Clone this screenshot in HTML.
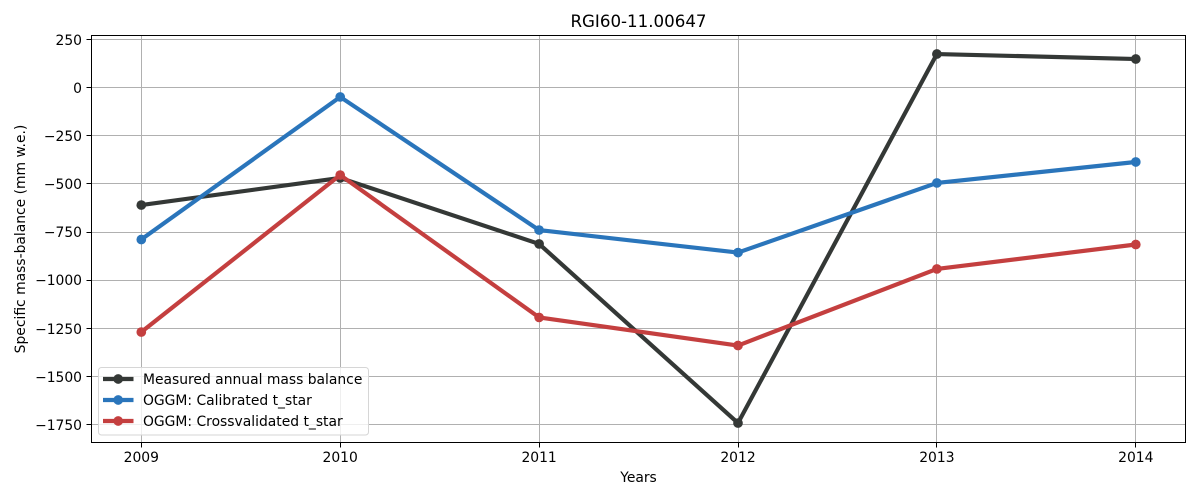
<!DOCTYPE html>
<html>
<head>
<meta charset="utf-8">
<title>RGI60-11.00647</title>
<style>
html,body{margin:0;padding:0;background:#fff;}
svg{display:block;}
text{font-family:"DejaVu Sans","Liberation Sans",sans-serif;fill:#000;}
</style>
</head>
<body>
<svg id="chart" xmlns="http://www.w3.org/2000/svg" width="1200" height="500" viewBox="0 0 1200 500"></svg>
<script>
const years = [2009, 2010, 2011, 2012, 2013, 2014];
const yTickValues = [250, 0, -250, -500, -750, -1000, -1250, -1500, -1750];
const measured = [-610, -469, -812, -1743, 175, 149];
const calibrated = [-789, -48, -740, -857, -495, -386];
const crossvalidated = [-1270, -454, -1194, -1340, -942, -815];
const seriesNames = ["Measured annual mass balance", "OGGM: Calibrated t_star", "OGGM: Crossvalidated t_star"];
const seriesSlugs = ["measured", "calibrated", "crossvalidated"];
const seriesColors = ["#343836", "#2a75bb", "#c43f3f"];

const NS = "http://www.w3.org/2000/svg";
const svg = document.getElementById("chart");
const plot = {left: 91.5, right: 1185.5, top: 35.5, bottom: 442.5};

function xScale(v) {
  return 141.3 + (v - 2009) * 198.9;
}
function yScale(v) {
  return 87.7 - v * 0.1924;
}
function snap(p) {
  return Math.floor(p) + 0.5;
}
function make(tag, attrs, text) {
  const el = document.createElementNS(NS, tag);
  for (const k in attrs) el.setAttribute(k, attrs[k]);
  if (text !== undefined) el.textContent = text;
  svg.appendChild(el);
  return el;
}
function formatTick(v) {
  return v < 0 ? "\u2212" + Math.abs(v) : String(v);
}

// Grid lines and ticks
years.forEach(function (y) {
  const x = snap(xScale(y));
  const grid = make("line", {x1: x, x2: x, y1: plot.top, y2: plot.bottom, stroke: "#b0b0b0", "stroke-width": 1});
  
  
  const tick = make("line", {x1: x, x2: x, y1: plot.bottom, y2: plot.bottom + 5, stroke: "#000", "stroke-width": 1});
  
  
  const label = make("text", {x: xScale(y), y: 462, "text-anchor": "middle", "font-size": 13.89}, String(y));
  
  
});
yTickValues.forEach(function (v) {
  const y = snap(yScale(v));
  const grid = make("line", {x1: plot.left, x2: plot.right, y1: y, y2: y, stroke: "#b0b0b0", "stroke-width": 1});
  
  
  const tick = make("line", {x1: plot.left - 5, x2: plot.left, y1: y, y2: y, stroke: "#000", "stroke-width": 1});
  
  
  const label = make("text", {x: 82, y: Math.round(yScale(v) + 5.3), "text-anchor": "end", "font-size": 13.89}, formatTick(v));
  
  
});

// Series
[measured, calibrated, crossvalidated].forEach(function (values, i) {
  const pts = values.map(function (v, j) {
    return xScale(years[j]).toFixed(2) + "," + yScale(v).toFixed(2);
  }).join(" ");
  const line = make("polyline", {points: pts, fill: "none", stroke: seriesColors[i], "stroke-width": 4.17, "stroke-linejoin": "round", "stroke-linecap": "square"});
  
  
  values.forEach(function (v, j) {
    const dot = make("circle", {cx: xScale(years[j]), cy: yScale(v), r: 4.86, fill: seriesColors[i]});
    
    
  });
});

// Frame
const frame = make("rect", {x: plot.left, y: plot.top, width: plot.right - plot.left, height: plot.bottom - plot.top, fill: "none", stroke: "#000", "stroke-width": 1});



// Titles
const title = make("text", {x: 638.5, y: 27, "text-anchor": "middle", "font-size": 16.67}, "RGI60-11.00647");


const xTitle = make("text", {x: 638.5, y: 482, "text-anchor": "middle", "font-size": 13.89}, "Years");


const yTitle = make("text", {x: 0, y: 0, "text-anchor": "middle", "font-size": 13.89, transform: "translate(25 239) rotate(-90)"}, "Specific mass-balance (mm w.e.)");



// Legend
const legendBox = make("rect", {x: 98.5, y: 367.5, width: 270, height: 67.5, rx: 3, ry: 3, fill: "#fff", "fill-opacity": 0.8, stroke: "#d6d6d6", "stroke-width": 1});


seriesNames.forEach(function (name, i) {
  const ly = 379 + i * 21;
  const sample = make("line", {x1: 103, x2: 133.5, y1: ly, y2: ly, stroke: seriesColors[i], "stroke-width": 4.17});
  
  
  const marker = make("circle", {cx: 118.2, cy: ly, r: 4.86, fill: seriesColors[i]});
  
  
  const label = make("text", {x: 143, y: ly + 5.2, "font-size": 13.89}, name);
  
  
});
</script>
</body>
</html>
